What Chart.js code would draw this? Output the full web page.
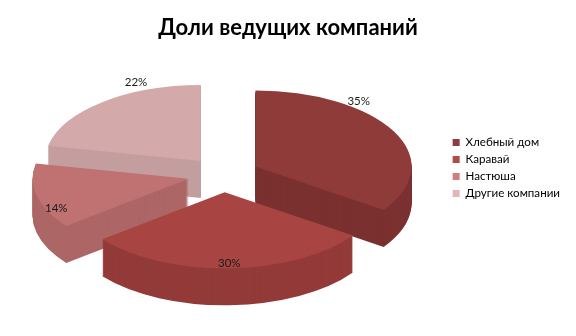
<!DOCTYPE html>
<html><head><meta charset="utf-8">
<script src="https://cdn.jsdelivr.net/npm/chart.js@4/dist/chart.umd.min.js"></script>
<style>html,body{margin:0;padding:0;background:#fff}#wrap{width:576px;height:336px}</style>
</head><body><div id="wrap"><canvas id="c" width="576" height="336"></canvas></div>
<script>
const categories = ['Хлебный дом', 'Каравай', 'Настюша', 'Другие компании'];
const shares = [35, 30, 14, 22];
const titleText = 'Доли ведущих компаний';
const legendColors = ['#8e3c3c', '#b04a47', '#d07e7e', '#e2b6b6'];
const topColors = ['#8f3b3a', '#a84542', '#c07272', '#d4a9aa'];
const sideColors = ['#7a3130', '#933b39', '#ad6666', '#c49e9f'];

const pie3d = {
  id: 'pie3d',
  beforeDatasetsDraw(chart, args, opts) {
    const meta = chart.getDatasetMeta(0);
    const ctx = chart.ctx;
    const els = meta.data;
    if (!els.length) return false;
    const cx = els[0].x, cy = els[0].y, R = els[0].outerRadius;
    const tx = cx + opts.shiftX, ty = cy + opts.shiftY;
    const sx = opts.rx / R, sy = opts.ry / R, e = opts.explode / sx;
    const mids = els.map(el => (el.startAngle + el.endAngle) / 2);
    const order = els.map((el, i) => i).sort((a, b) => Math.sin(mids[a]) - Math.sin(mids[b]));
    function drawEl(i, color, dy) {
      const el = els[i];
      const c = Object.create(el);
      c.options = Object.assign({}, el.options, {backgroundColor: color, borderColor: color, borderWidth: 0, offset: 0, spacing: 0});
      ctx.save();
      ctx.translate(tx, ty + dy);
      ctx.scale(sx, sy);
      ctx.translate(-cx, -cy);
      ctx.translate(Math.cos(mids[i]) * e, Math.sin(mids[i]) * e);
      c.draw(ctx);
      ctx.restore();
    }
    order.forEach(i => {
      for (let d = opts.depth; d >= 1; d--) drawEl(i, opts.side[i], d);
    });
    order.forEach(i => drawEl(i, opts.top[i], 0));
    // labels
    const total = shares.reduce((a, b) => a + b, 0);
    ctx.save();
    ctx.font = opts.labelFont;
    ctx.fillStyle = opts.labelColor;
    ctx.textAlign = 'center';
    ctx.textBaseline = 'middle';
    els.forEach((el, i) => {
      const a = el.startAngle + (el.endAngle - el.startAngle) * opts.labelFrac[i];
      const px = Math.cos(mids[i]) * e + Math.cos(a) * R * opts.labelR[i];
      const py = Math.sin(mids[i]) * e + Math.sin(a) * R * opts.labelR[i];
      ctx.fillText(Math.round(shares[i] / total * 100) + '%', tx + px * sx, ty + py * sy);
    });
    ctx.restore();
    return false;
  }
};

new Chart(document.getElementById('c'), {
  type: 'pie',
  data: {
    labels: categories,
    datasets: [{data: shares, backgroundColor: legendColors, borderWidth: 0}]
  },
  options: {
    responsive: false,
    animation: false,
    layout: {padding: {left: 6, right: 6, top: 0, bottom: 0}},
    plugins: {
      title: {display: true, text: titleText, color: '#000',
        font: {family: 'Lato', size: 22, weight: 'bold'}, padding: {top: 15, bottom: 10}},
      legend: {position: 'right',
        labels: {boxWidth: 7, boxHeight: 7, color: '#000', padding: 5.4, font: {family: 'Lato', size: 11.6}}},
      tooltip: {enabled: false},
      pie3d: {rx: 156, ry: 76, depth: 37, explode: 36, shiftX: -3, shiftY: -19,
        top: topColors, side: sideColors,
        labelFrac: [0.3, 0.5, 0.27, 0.72], labelR: [1.088, 0.94, 0.935, 1.112],
        labelFont: '11.5px Lato', labelColor: '#1a1a1a'}
    }
  },
  plugins: [pie3d]
});
</script>
</body></html>
